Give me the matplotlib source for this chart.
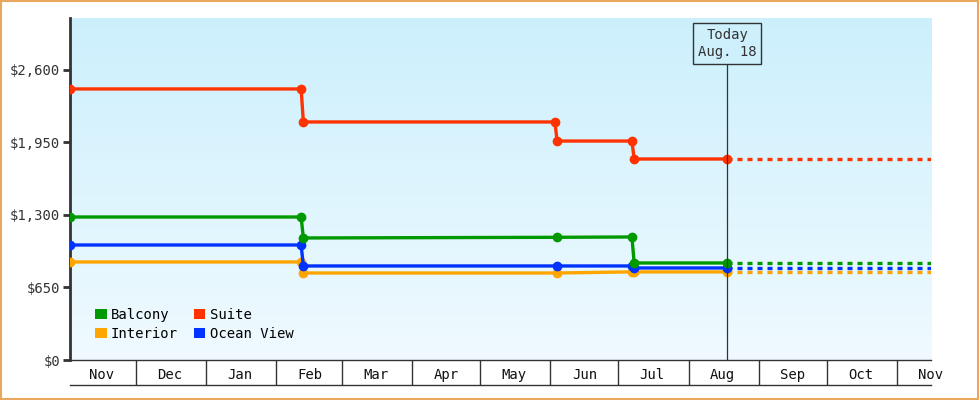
import numpy as np
import matplotlib.pyplot as plt
import matplotlib.dates as mdates
from matplotlib.patches import Patch
from datetime import datetime as dt

plt.rcParams['font.family'] = ['DejaVu Sans Mono']

x_start = dt(2023, 11, 2)
x_end = dt(2024, 11, 16)
today = dt(2024, 8, 18)

series = {
    "Suite": {
        "color": "#ff3300",
        "dates": [dt(2023, 11, 2), dt(2024, 2, 12), dt(2024, 2, 13), dt(2024, 6, 3), dt(2024, 6, 4),
                  dt(2024, 7, 7), dt(2024, 7, 8), today],
        "values": [2430, 2430, 2134, 2134, 1963, 1963, 1802, 1802],
    },
    "Balcony": {
        "color": "#009900",
        "dates": [dt(2023, 11, 2), dt(2024, 2, 12), dt(2024, 2, 13), dt(2024, 6, 4),
                  dt(2024, 7, 7), dt(2024, 7, 8), today],
        "values": [1282, 1282, 1094, 1100, 1103, 870, 870],
    },
    "Ocean View": {
        "color": "#0033ff",
        "dates": [dt(2023, 11, 2), dt(2024, 2, 12), dt(2024, 2, 13), dt(2024, 6, 4),
                  dt(2024, 7, 7), dt(2024, 7, 8), today],
        "values": [1031, 1031, 843, 843, 843, 825, 825],
    },
    "Interior": {
        "color": "#ffa500",
        "dates": [dt(2023, 11, 2), dt(2024, 2, 12), dt(2024, 2, 13), dt(2024, 6, 4),
                  dt(2024, 7, 7), dt(2024, 7, 8), today],
        "values": [879, 879, 780, 780, 790, 790, 790],
    },
}
draw_order = ["Interior", "Ocean View", "Balcony", "Suite"]
legend_order = ["Balcony", "Interior", "Suite", "Ocean View"]

yticks = [0, 650, 1300, 1950, 2600]
month_starts = [dt(2023, 11, 1)] + [dt(2024, m, 1) for m in range(1, 12)]
month_starts = [dt(2023, 12, 1)] + [dt(2024, m, 1) for m in range(1, 12)]
month_labels = ["Nov", "Dec", "Jan", "Feb", "Mar", "Apr", "May", "Jun", "Jul", "Aug", "Sep", "Oct", "Nov"]
month_mids = [dt(2023, 11, 16), dt(2023, 12, 16)] + [dt(2024, m, 16) for m in range(1, 12)]

fig = plt.figure(figsize=(9.8, 4.0), dpi=100)
fig.patches.append(plt.Rectangle((0.001, 0.002), 0.997, 0.996, transform=fig.transFigure,
                                 fill=False, edgecolor="#e8a860", linewidth=1.5))
ax = fig.add_axes([70 / 980, 40 / 400, 861 / 980, 342 / 400])

# background gradient
grad = np.linspace(0, 1, 256).reshape(-1, 1)
top = np.array([0.80, 0.94, 0.99])
bot = np.array([0.94, 0.98, 1.0])
img = top + (bot - top) * grad[:, :, None]
ax.imshow(img, extent=[0, 1, 0, 1], transform=ax.transAxes, aspect="auto", zorder=0)

for name in draw_order:
    s = series[name]
    ax.plot(s["dates"], s["values"], color=s["color"], lw=2.4, marker="o", ms=6, zorder=3)
    ax.plot([today, x_end], [s["values"][-1]] * 2, color=s["color"], lw=2.4,
            linestyle=(0, (1.5, 1.5)), zorder=2)

ax.set_xlim(x_start, x_end)
ax.set_ylim(0, 3066)

# today marker
ax.plot([today, today], [0, 2670], color="#333333", lw=0.9, zorder=4)
ax.text(today, 2840, "Today\nAug. 18", ha="center", va="center", fontsize=10, color="#333333",
        linespacing=1.3, zorder=5,
        bbox=dict(boxstyle="square,pad=0.35", facecolor="#cdf0fc", edgecolor="#333333", linewidth=1))

ax.set_yticks(yticks)
ax.set_yticklabels(["$0", "$650", "$1,300", "$1,950", "$2,600"], fontsize=10, color="#333333")
ax.tick_params(axis="y", length=5, width=2, color="#333333", pad=2)

ax.set_xticks(month_starts)
ax.set_xticklabels([])
ax.tick_params(axis="x", which="major", length=18, width=1, color="#333333", direction="out")
ax.set_xticks(month_mids, minor=True)
ax.set_xticklabels(month_labels, minor=True, fontsize=10, color="#111111")
ax.tick_params(axis="x", which="minor", length=0, pad=6)
ax.plot([0, 1], [-25 / 342] * 2, transform=ax.transAxes, color="#333333", lw=1, clip_on=False)

for side in ["top", "right"]:
    ax.spines[side].set_visible(False)
ax.spines["left"].set_linewidth(2)
ax.spines["left"].set_color("#333333")
ax.spines["bottom"].set_linewidth(1)
ax.spines["bottom"].set_color("#333333")

handles = [Patch(facecolor=series[n]["color"], edgecolor="none", label=n) for n in legend_order]
ax.legend(handles=handles, ncol=2, loc="lower left", bbox_to_anchor=(0.015, 0.02), frameon=False,
          fontsize=10, handlelength=0.8, handleheight=0.8, handletextpad=0.3, columnspacing=1.2,
          labelspacing=0.35)

fig.savefig("out.png", dpi=100)
